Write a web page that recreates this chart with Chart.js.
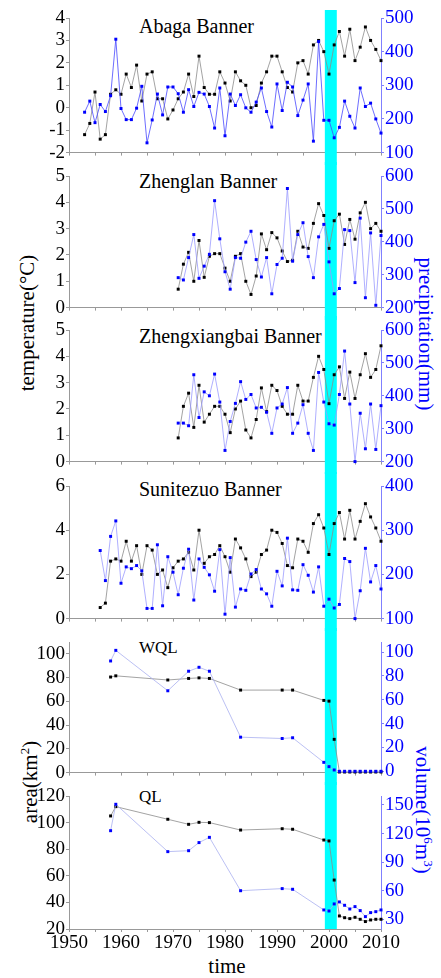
<!DOCTYPE html>
<html>
<head>
<meta charset="utf-8">
<script src="https://cdn.jsdelivr.net/npm/chart.js@4.4.1/dist/chart.umd.min.js"></script>
<style>
  body { margin: 0; background: #fff; }
  #wrap { position: relative; width: 441px; height: 978px; overflow: hidden; font-family: "Liberation Serif", serif; }
  #wrap canvas { position: absolute; left: 0; }
  .title { position: absolute; left: 139px; font-size: 20px; line-height: 20px; color: #000; white-space: nowrap; }
  .small { font-size: 17px; line-height: 17px; }
  .axis-title { position: absolute; font-size: 21px; line-height: 21px; white-space: nowrap; transform: translate(-50%, -50%); }
  .rot-l { transform: translate(-50%, -50%) rotate(-90deg); }
  .rot-r { transform: translate(-50%, -50%) rotate(90deg); color: #0000ff; }
</style>
</head>
<body>
<div id="wrap">
  <div class="title" style="top:16px">Abaga Banner</div>
  <div class="title" style="top:171px">Zhenglan Banner</div>
  <div class="title" style="top:326px">Zhengxiangbai Banner</div>
  <div class="title" style="top:479px">Sunitezuo Banner</div>
  <div class="title small" style="top:639px">WQL</div>
  <div class="title small" style="top:788px">QL</div>
  <div class="axis-title rot-l" style="left:27px; top:323px">temperature(°C)</div>
  <div class="axis-title rot-r" style="left:425px; top:334px">precipitation(mm)</div>
  <div class="axis-title rot-l" style="left:27px; top:782px">area(km<sup style="font-size:13px">2</sup>)</div>
  <div class="axis-title rot-r" style="left:425px; top:810px">volume(10<sup style="font-size:13px">6</sup>m<sup style="font-size:13px">3</sup>)</div>
  <div class="axis-title" style="left:227px; top:966px">time</div>
</div>
<script>
// ---- data ----
const years = [1953, 1954, 1955, 1956, 1957, 1958, 1959, 1960, 1961, 1962,
  1963, 1964, 1965, 1966, 1967, 1968, 1969, 1970, 1971, 1972,
  1973, 1974, 1975, 1976, 1977, 1978, 1979, 1980, 1981, 1982,
  1983, 1984, 1985, 1986, 1987, 1988, 1989, 1990, 1991, 1992,
  1993, 1994, 1995, 1996, 1997, 1998, 1999, 2000, 2001, 2002,
  2003, 2004, 2005, 2006, 2007, 2008, 2009, 2010];

// Abaga Banner, 1953-2010
const abagaTemp = [-1.2, -0.7, 0.7, -1.4, -1.2, 0.6, 0.8, 0.6, 1.5, 0.9,
  1.9, 0.3, 1.5, 1.6, 0.4, 0.4, -0.5, -0.1, 0.4, 0.7,
  1.5, 0.5, 2.3, 0.9, 0.6, 0.6, 1.6, 1.1, 0.3, 1.6,
  1.2, 1.0, 0.0, 0.1, 1.1, 1.6, 2.3, 2.3, 1.6, 0.9,
  0.7, 2.0, 2.1, 1.5, 2.8, 3.0, 2.5, 1.5, 2.8, 3.4,
  2.3, 3.5, 2.1, 2.7, 3.6, 3.0, 2.6, 2.1];
const abagaPrecip = [220, 253, 189, 243, 222, 269, 437, 231, 198, 198,
  232, 297, 129, 197, 274, 212, 295, 295, 275, 220,
  287, 237, 279, 274, 237, 173, 292, 150, 274, 240,
  272, 233, 220, 250, 292, 222, 176, 304, 225, 309,
  295, 210, 256, 304, 134, 430, 196, 196, 144, 175,
  253, 208, 173, 292, 237, 247, 200, 158];

// Zhenglan Banner, 1971-2010
const zhenglanTemp = [0.7, 1.65, 2.1, 1.0, 2.55, 1.15, 1.95, 2.05, 2.05, 1.5,
  1.0, 1.95, 2.05, 1.0, 0.5, 1.2, 2.8, 2.2, 2.85, 2.65,
  2.15, 1.75, 1.8, 2.9, 2.3, 2.25, 3.2, 3.95, 3.5, 2.25,
  3.3, 3.55, 2.4, 3.35, 2.6, 3.6, 4.0, 3.0, 3.2, 2.9];
const zhenglanPrecip = [291, 284, 352, 422, 289, 326, 362, 525, 409, 309,
  256, 352, 350, 399, 432, 346, 293, 352, 242, 331,
  350, 562, 341, 422, 458, 355, 291, 415, 453, 339,
  242, 258, 437, 434, 276, 472, 230, 427, 207, 419];

// Zhengxiangbai Banner, 1971-2010
const zhengxiangbaiTemp = [0.9, 2.1, 2.6, 1.3, 2.9, 1.5, 1.8, 2.1, 2.1, 1.8,
  1.1, 2.0, 2.3, 1.2, 0.9, 1.6, 2.8, 1.9, 2.9, 2.7,
  2.1, 1.8, 1.8, 2.9, 2.3, 2.3, 3.2, 4.0, 3.5, 2.2,
  3.3, 3.6, 2.4, 3.4, 2.4, 3.3, 4.1, 3.2, 3.5, 4.4];
const zhengxiangbaiPrecip = [317, 317, 309, 464, 334, 412, 400, 466, 381, 234,
  322, 377, 443, 389, 404, 363, 365, 350, 286, 363,
  375, 425, 286, 317, 373, 286, 234, 471, 381, 315,
  311, 404, 536, 375, 200, 347, 239, 375, 237, 370];

// Sunitezuo Banner, 1956-2010
const sunitezuoTemp = [0.5, 0.7, 2.6, 2.7, 2.6, 3.5, 2.6, 3.3, 2.0, 3.3,
  3.1, 2.0, 2.2, 1.4, 2.3, 2.6, 2.7, 3.0, 2.2, 4.0,
  2.5, 2.8, 2.9, 3.3, 2.8, 2.1, 3.6, 3.2, 2.7, 1.9,
  2.1, 2.9, 3.1, 4.0, 3.9, 3.4, 2.4, 2.3, 3.6, 3.5,
  3.0, 4.3, 4.7, 4.1, 2.9, 4.3, 4.8, 3.6, 4.9, 3.6,
  4.4, 5.2, 4.6, 4.1, 3.5];
const sunitezuoPrecip = [254, 186, 286, 321, 180, 217, 213, 220, 208, 123,
  123, 267, 129, 240, 205, 154, 214, 257, 142, 235,
  216, 199, 162, 256, 110, 238, 126, 167, 164, 201,
  211, 167, 156, 128, 207, 174, 282, 165, 164, 222,
  198, 160, 217, 128, 144, 124, 132, 236, 229, 100,
  163, 259, 183, 220, 167];

// lakes: survey years
const lakeYears = [1958, 1959, 1969, 1973, 1975, 1977, 1983, 1991, 1993, 1999,
  2000, 2001, 2002, 2003, 2004, 2005, 2006, 2007, 2008, 2009, 2010];
const wqlArea = [80.5, 81.5, 78, 79.3, 79.8, 79.3, 69.5, 69.5, 69.5, 60.8,
  60.2, 28, 0.5, 0.5, 0.5, 0.5, 0.5, 0.5, 0.5, 0.5, 0.5];
const wqlVolume = [92.5, 101.4, 67.5, 83.9, 87.2, 83.9, 28.6, 27.5, 28.1, 7.5,
  3.9, 1.1, 0, 0, 0, 0, 0, 0, 0, 0, 0];
const qlArea = [105, 112, 102.5, 98.7, 100.2, 100, 94.4, 95.4, 95, 86.9,
  86.2, 56.8, 29.8, 28.5, 27.8, 28.8, 27.3, 25.6, 26.8, 27.3, 27.3];
const qlVolume = [123, 150.7, 101, 102, 110.5, 116, 60, 62.2, 61.5, 39.8,
  38.7, 46.1, 48.2, 44.7, 40.8, 43.3, 39.1, 32.8, 37, 38, 39.8];

// axes
const xRange = [1950, 2010];
const xTicks = [1950, 1955, 1960, 1965, 1970, 1975, 1980, 1985, 1990, 1995, 2000, 2005, 2010];
const xLabelled = [1950, 1960, 1970, 1980, 1990, 2000, 2010];
const bandYears = [1999.2, 2001.5];

const tempTicks1 = [-2, -1, 0, 1, 2, 3, 4];
const precipTicks1 = [100, 200, 300, 400, 500];
const tempTicks23 = [0, 1, 2, 3, 4, 5];
const precipTicks23 = [200, 300, 400, 500, 600];
const tempTicks4 = [0, 2, 4, 6];
const precipTicks4 = [100, 200, 300, 400];
const areaTicksW = [0, 20, 40, 60, 80, 100];
const volumeTicksW = [0, 20, 40, 60, 80, 100];
const areaTicksQ = [20, 40, 60, 80, 100, 120];
const volumeTicksQ = [30, 60, 90, 120, 150];

// ---- layout ----
const PAD_TOP = 14;
const LEFT_W = 69;   // plot starts at x=69
const RIGHT_W = 60;  // plot ends at x=381
const tickFont = { family: "'Liberation Serif', 'Times New Roman', serif", size: 19 };

function yearsFrom(start, n) {
  const i = years.indexOf(start);
  return years.slice(i, i + n);
}

function toPoints(xs, ys) {
  return xs.map((x, i) => ({ x: x, y: ys[i] }));
}

const bandPlugin = {
  id: 'band',
  beforeDatasetsDraw(chart, args, opts) {
    const { ctx, chartArea, scales } = chart;
    const x0 = scales.x.getPixelForValue(bandYears[0]);
    const x1 = scales.x.getPixelForValue(bandYears[1]);
    const y0 = opts.first ? chartArea.top - 8 : 0;
    const y1 = opts.last ? chartArea.bottom : chart.height;
    ctx.save();
    ctx.fillStyle = '#00ffff';
    ctx.fillRect(x0, y0, x1 - x0, y1 - y0);
    ctx.restore();
  }
};

const panels = [
  { plotTop: 18, plotH: 135, bottomH: 12, xs: years, left: abagaTemp, right: abagaPrecip,
    leftMin: -2, leftMax: 4, leftTicks: tempTicks1, rightMin: 100, rightMax: 500, rightTicks: precipTicks1,
    blueLine: '#4848ff', first: true },
  { plotTop: 176, plotH: 132, bottomH: 12, xs: yearsFrom(1971, 40), left: zhenglanTemp, right: zhenglanPrecip,
    leftMin: 0, leftMax: 5, leftTicks: tempTicks23, rightMin: 200, rightMax: 600, rightTicks: precipTicks23,
    blueLine: '#9a9aff' },
  { plotTop: 330, plotH: 132, bottomH: 12, xs: yearsFrom(1971, 40), left: zhengxiangbaiTemp, right: zhengxiangbaiPrecip,
    leftMin: 0, leftMax: 5, leftTicks: tempTicks23, rightMin: 200, rightMax: 600, rightTicks: precipTicks23,
    blueLine: '#9a9aff' },
  { plotTop: 486, plotH: 133, bottomH: 12, xs: yearsFrom(1956, 55), left: sunitezuoTemp, right: sunitezuoPrecip,
    leftMin: 0, leftMax: 6, leftTicks: tempTicks4, rightMin: 100, rightMax: 400, rightTicks: precipTicks4,
    blueLine: '#9a9aff' },
  { plotTop: 642, plotH: 131, bottomH: 12, xs: lakeYears, left: wqlArea, right: wqlVolume,
    leftMin: 0, leftMax: 110, leftTicks: areaTicksW, rightMin: -1.1, rightMax: 108.4, rightTicks: volumeTicksW,
    blueLine: '#aab0f0' },
  { plotTop: 796, plotH: 133, bottomH: 49, xs: lakeYears, left: qlArea, right: qlVolume,
    leftMin: 20, leftMax: 120, leftTicks: areaTicksQ, rightMin: 19.8, rightMax: 159.4, rightTicks: volumeTicksQ,
    blueLine: '#aab0f0', last: true }
];

const wrap = document.getElementById('wrap');

function makePanel(p) {
  const canvas = document.createElement('canvas');
  canvas.width = 441;
  canvas.height = PAD_TOP + p.plotH + p.bottomH;
  canvas.style.top = (p.plotTop - PAD_TOP) + 'px';
  wrap.appendChild(canvas);

  new Chart(canvas, {
    type: 'line',
    data: {
      datasets: [
        {
          data: toPoints(p.xs, p.right),
          yAxisID: 'yR',
          borderColor: p.blueLine,
          borderWidth: 0.8,
          pointStyle: 'rect',
          pointRadius: 2.1,
          pointBorderWidth: 0,
          pointBackgroundColor: '#0000ff',
          clip: false
        },
        {
          data: toPoints(p.xs, p.left),
          yAxisID: 'yL',
          borderColor: '#8c8c8c',
          borderWidth: 0.8,
          pointStyle: 'rect',
          pointRadius: 2.1,
          pointBorderWidth: 0,
          pointBackgroundColor: '#000',
          clip: false
        }
      ]
    },
    options: {
      responsive: false,
      animation: false,
      devicePixelRatio: 1,
      layout: { padding: { top: PAD_TOP, left: 0, right: 0, bottom: 0 } },
      plugins: {
        legend: { display: false },
        tooltip: { enabled: false },
        band: { first: !!p.first, last: !!p.last }
      },
      scales: {
        x: {
          type: 'linear',
          min: xRange[0],
          max: xRange[1],
          afterFit: s => { s.height = p.bottomH; },
          afterBuildTicks: s => { s.ticks = xTicks.map(v => ({ value: v })); },
          grid: { drawOnChartArea: false, tickLength: 3, color: '#999' },
          border: { color: '#999', width: 1 },
          ticks: {
            autoSkip: false,
            maxRotation: 0,
            padding: 0,
            color: '#000',
            font: tickFont,
            callback: v => (p.last && xLabelled.includes(v)) ? String(v) : ''
          }
        },
        yL: {
          position: 'left',
          min: p.leftMin,
          max: p.leftMax,
          afterFit: s => { s.width = LEFT_W; },
          afterBuildTicks: s => { s.ticks = p.leftTicks.map(v => ({ value: v })); },
          grid: { drawOnChartArea: false, tickLength: 3, color: '#999' },
          border: { color: '#999', width: 1 },
          ticks: { autoSkip: false, padding: 1, color: '#000', font: tickFont, callback: v => String(v) }
        },
        yR: {
          position: 'right',
          min: p.rightMin,
          max: p.rightMax,
          afterFit: s => { s.width = RIGHT_W; },
          afterBuildTicks: s => { s.ticks = p.rightTicks.map(v => ({ value: v })); },
          grid: { drawOnChartArea: false, tickLength: 3, color: '#8080ff' },
          border: { color: '#8080ff', width: 1 },
          ticks: { autoSkip: false, padding: 1, color: '#0000ff', font: tickFont, callback: v => String(v) }
        }
      }
    },
    plugins: [bandPlugin]
  });
}

panels.forEach(makePanel);
</script>
</body>
</html>
